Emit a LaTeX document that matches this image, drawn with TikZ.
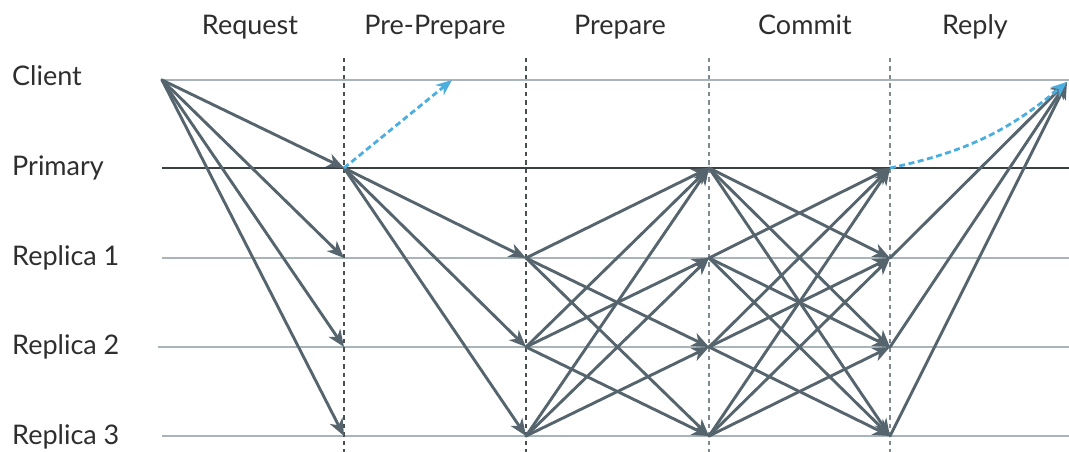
\documentclass[tikz,border=0pt]{standalone}
\usepackage{fontspec}
\setmainfont{Lato}
\usetikzlibrary{arrows.meta}
\definecolor{arr}{HTML}{56656D}
\definecolor{lanec}{HTML}{A9B4B9}
\definecolor{primc}{HTML}{3A3F42}
\definecolor{blu}{HTML}{4BAEE0}
\definecolor{txt}{HTML}{2E2E2E}
\definecolor{vdark}{HTML}{4A4F52}
\definecolor{vlight}{HTML}{7F8A90}
\tikzset{
  msg/.style={draw=arr, line width=2.9pt, line cap=round,
    -{Stealth[length=17pt,width=14pt,inset=5pt]}},
  bluemsg/.style={draw=blu, line width=2.8pt, dash pattern=on 6pt off 3.5pt,
    -{Stealth[length=16pt,width=13pt,inset=5pt,fill=blu]}},
  lanel/.style={draw=lanec, line width=2.8pt},
  laneprim/.style={draw=primc, line width=1.7pt},
  vd/.style={draw=vdark, line width=1.4pt, dash pattern=on 4.5pt off 4pt},
  vl/.style={draw=vlight, line width=1.4pt, dash pattern=on 4.5pt off 4pt},
  rowlbl/.style={text=txt, anchor=base west, font=\fontsize{27}{32}\selectfont, inner sep=0pt},
  collbl/.style={text=txt, anchor=base, font=\fontsize{27}{32}\selectfont, inner sep=0pt},
}
\begin{document}
\begin{tikzpicture}[x=1pt,y=-1pt]
\useasboundingbox (0,0) rectangle (1069,452);
% labels
\node[collbl] (hreq) at (250,35) {Request};
\node[collbl] (hpre) at (435,35) {Pre-Prepare};
\node[collbl] (hprep) at (620,35) {Prepare};
\node[collbl] (hcom) at (805,35) {Commit};
\node[collbl] (hrep) at (975,35) {Reply};
\node[rowlbl] (lc) at (12,86) {Client};
\node[rowlbl] (lp) at (12,175) {Primary};
\node[rowlbl] (la) at (12,265) {Replica 1};
\node[rowlbl] (lb) at (12,354) {Replica 2};
\node[rowlbl] (lcc) at (12,444) {Replica 3};
% lane endpoints
\coordinate (CS) at (162,80);  \coordinate (CE) at (1069,80);
\coordinate (PS) at (162,168); \coordinate (PE) at (1069,168);
\coordinate (AS) at (162,258); \coordinate (AE) at (1069,258);
\coordinate (BS) at (158,347); \coordinate (BE) at (1069,347);
\coordinate (DS) at (162,436); \coordinate (DE) at (1069,436);
\draw[lanel] (CS) -- (CE);
\draw[laneprim] (PS) -- (PE);
\draw[lanel] (AS) -- (AE);
\draw[lanel] (BS) -- (BE);
\draw[lanel] (DS) -- (DE);
% phase points
\foreach \i/\x in {1/344,2/526,3/709,4/890}{
  \coordinate (T\i) at (\x,58);
  \coordinate (U\i) at (\x,452);
  \coordinate (P\i) at (\x,168);
  \coordinate (A\i) at (\x,258);
  \coordinate (B\i) at (\x,347);
  \coordinate (D\i) at (\x,436);
}
\draw[vd] (T1) -- (U1);
\draw[vd] (T2) -- (U2);
\draw[vl] (T3) -- (U3);
\draw[vl] (T4) -- (U4);
\coordinate (CB) at (452,80);
\coordinate (CR) at (1067,82);
% Request
\foreach \t in {P1,A1,B1,D1} \draw[msg] (CS) -- (\t);
% Pre-prepare
\foreach \t in {A2,B2,D2} \draw[msg] (P1) -- (\t);
\draw[bluemsg] (P1) -- (CB);
% Prepare
\foreach \s/\t in {A2/P3,A2/B3,A2/D3,B2/P3,B2/A3,B2/D3,D2/P3,D2/A3,D2/B3}
  \draw[msg] (\s) -- (\t);
% Commit
\foreach \s/\t in {P3/A4,P3/B4,P3/D4,A3/P4,A3/B4,A3/D4,B3/P4,B3/A4,B3/D4,D3/P4,D3/A4,D3/B4}
  \draw[msg] (\s) -- (\t);
% Reply
\foreach \s in {A4,B4,D4} \draw[msg] (\s) -- (CR);
\draw[bluemsg] (P4) to[bend right=14] (CR);
\end{tikzpicture}
\end{document}
